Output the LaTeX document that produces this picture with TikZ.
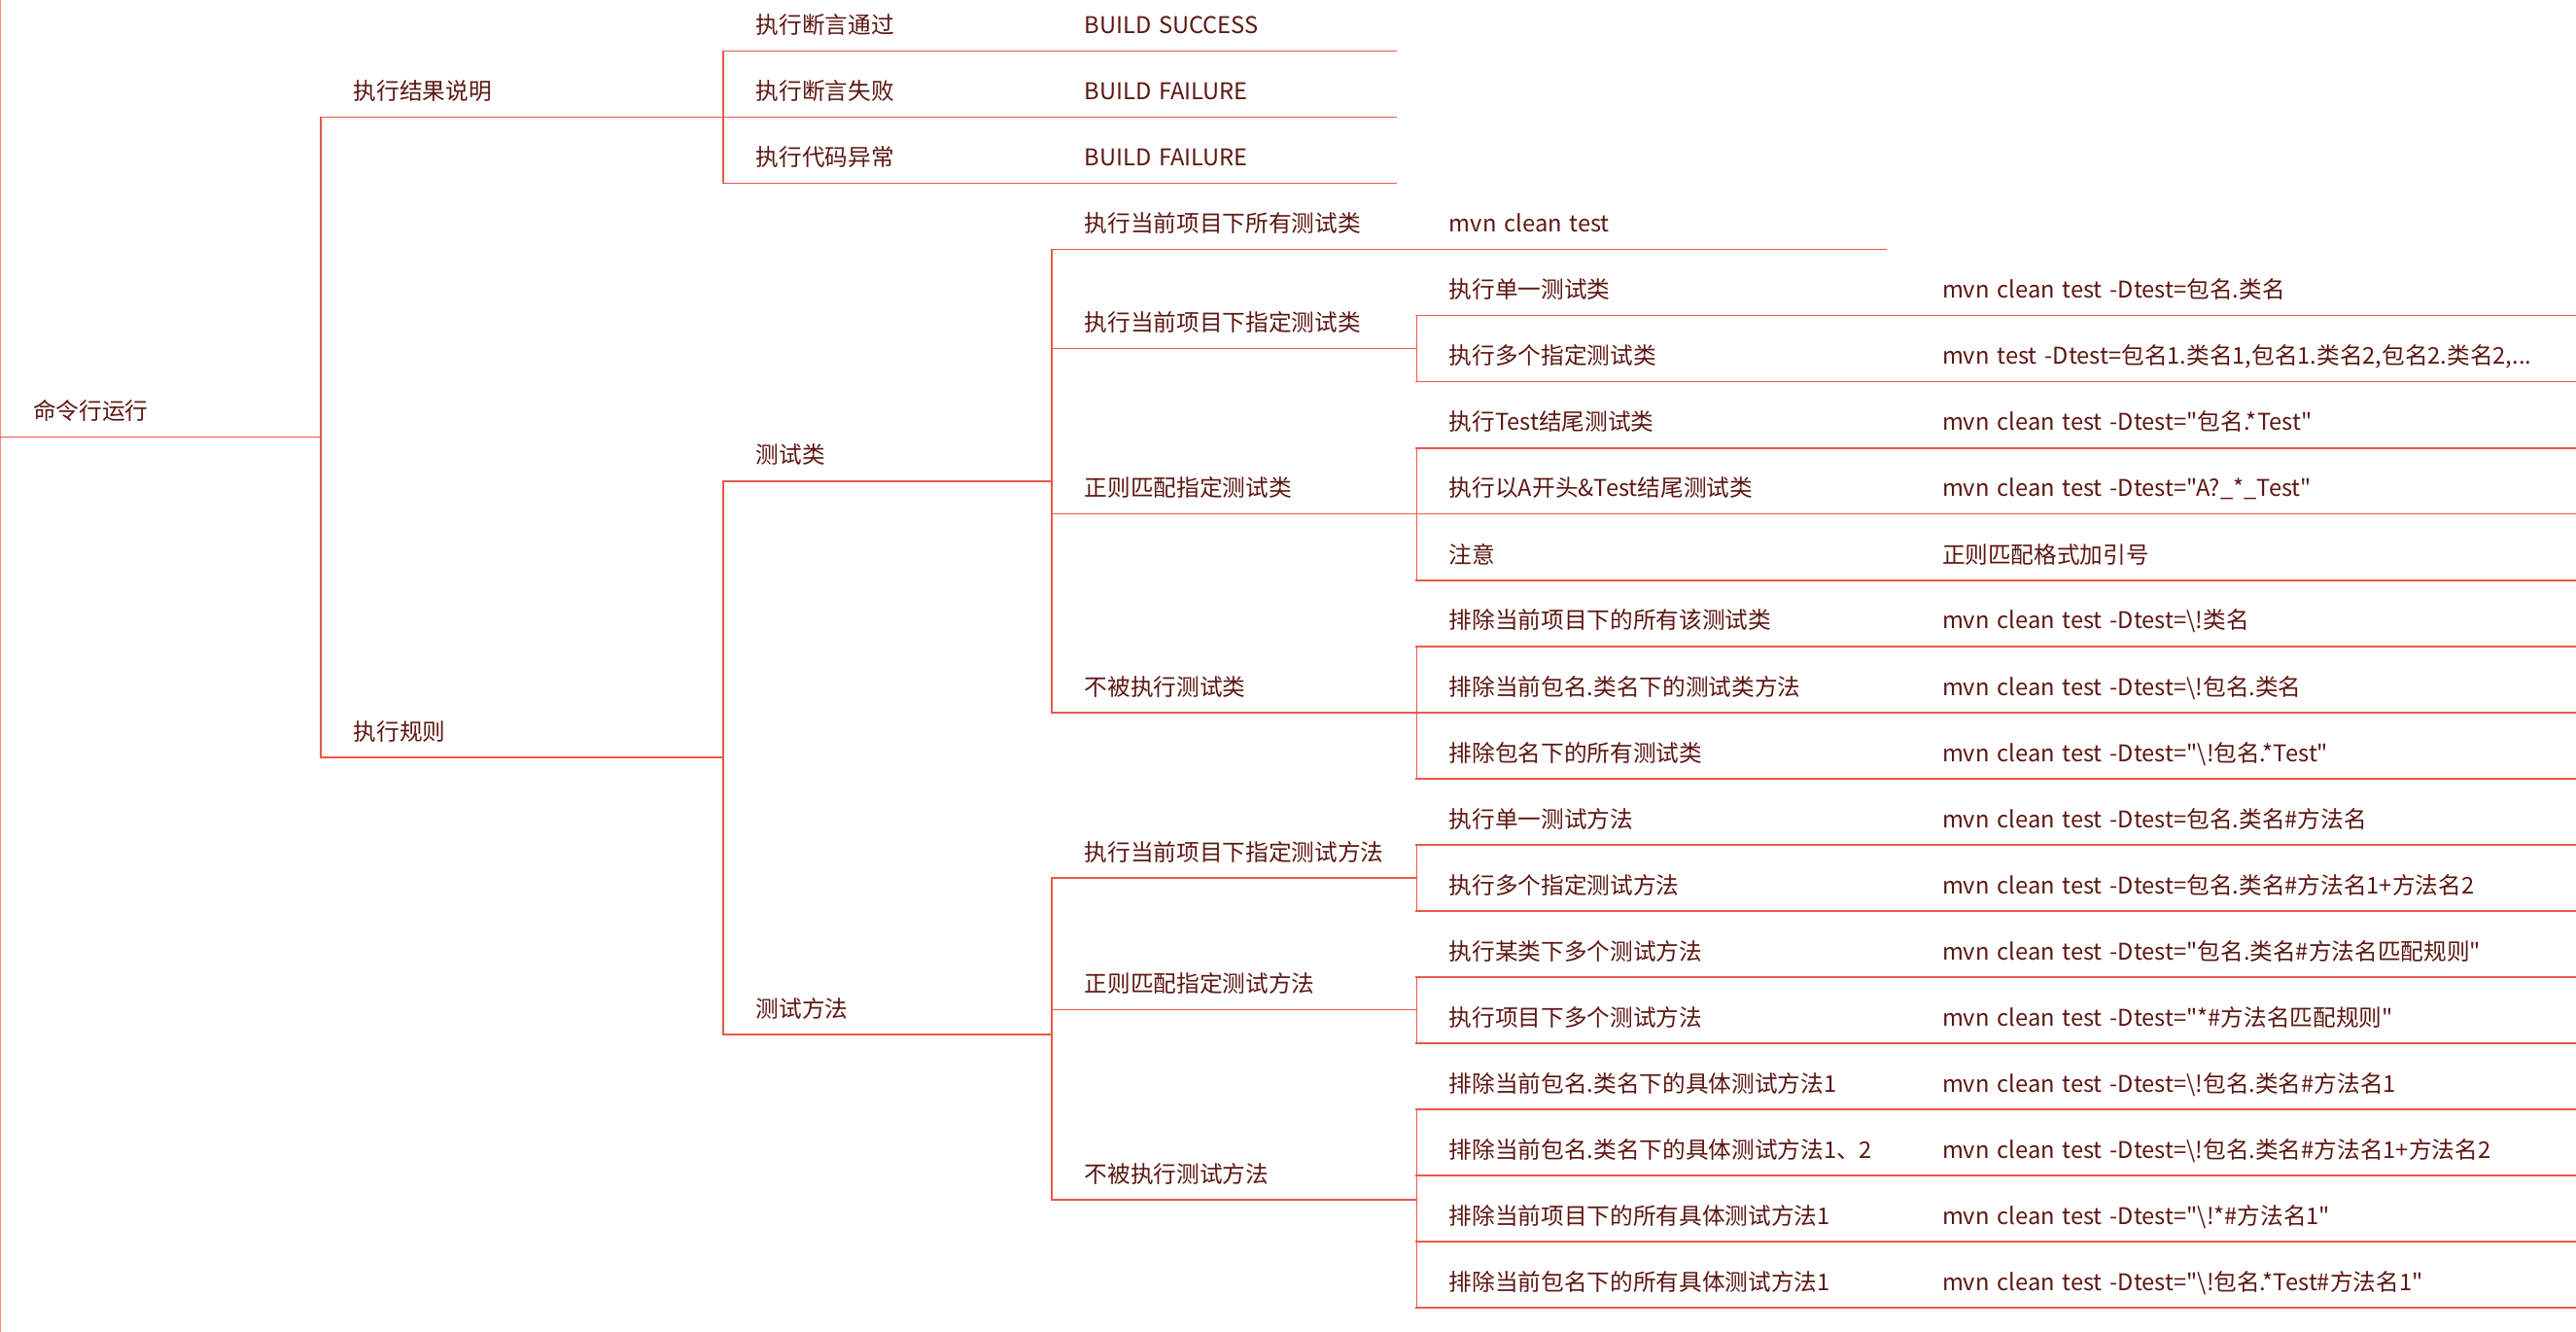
\documentclass[tikz,border=0pt]{standalone}
\usepackage{fontspec}
\setmainfont{Noto Sans CJK SC}
\newfontfamily\mapfont{Noto Sans CJK SC}
\usepackage{tikz}
\definecolor{wire}{HTML}{E9594D}
\definecolor{ink}{HTML}{5C1712}
\tikzset{
	topic/.style = {anchor=south west, inner xsep=20pt, inner ysep=10.3pt,
		text height=10pt, text depth=0pt, text width=#1, align=left,
		text=ink, font=\mapfont\fontsize{14pt}{16pt}\selectfont},
	wire/.style = {draw=wire, line width=1pt},
	branch/.style = {wire, line cap=rect,
		to path={(\tikztostart.south east) |- (\tikztotarget.south west)}}
}
\begin{document}
\begin{tikzpicture}[x=1pt, y=-1pt]
	\useasboundingbox (0,0) rectangle (1568,810.6);
	\draw[wire, draw=wire!70] (0,0) -- (0,810.6);
	% root and first level
	\node[topic=155pt] (cmd) at (0,266) {命令行运行};
	\node[topic=205pt] (res) at (195,71.3) {执行结果说明};
	\node[topic=205pt] (rule) at (195,461) {执行规则};
	% results
	\node[topic=160pt] (pass) at (440,31) {执行断言通过};
	\node[topic=160pt] (fail) at (440,71.3) {执行断言失败};
	\node[topic=160pt] (err) at (440,111.5) {执行代码异常};
	\node[topic=170pt] (passr) at (640,31) {BUILD SUCCESS};
	\node[topic=170pt] (failr) at (640,71.3) {BUILD FAILURE};
	\node[topic=170pt] (errr) at (640,111.5) {BUILD FAILURE};
	% rules
	\node[topic=160pt] (cls) at (440,292.7) {测试类};
	\node[topic=160pt] (mth) at (440,629.5) {测试方法};
	\node[topic=182pt] (allc) at (640,151.8) {执行当前项目下所有测试类};
	\node[topic=182pt] (selc) at (640,212.2) {执行当前项目下指定测试类};
	\node[topic=182pt] (regc) at (640,312.8) {正则匹配指定测试类};
	\node[topic=182pt] (excc) at (640,433.6) {不被执行测试类};
	\node[topic=182pt] (selm) at (640,534.3) {执行当前项目下指定测试方法};
	\node[topic=182pt] (regm) at (640,614.5) {正则匹配指定测试方法};
	\node[topic=182pt] (excm) at (640,730) {不被执行测试方法};
	% cases
	\node[topic=246pt] (allcv) at (862,151.8) {mvn clean test};
	\node[topic=260pt] (c1) at (862,192.0) {执行单一测试类};
	\node[topic=260pt] (c2) at (862,232.3) {执行多个指定测试类};
	\node[topic=260pt] (c3) at (862,272.6) {执行Test结尾测试类};
	\node[topic=260pt] (c4) at (862,312.8) {执行以A开头\&Test结尾测试类};
	\node[topic=260pt] (c5) at (862,353.1) {注意};
	\node[topic=260pt] (c6) at (862,393.3) {排除当前项目下的所有该测试类};
	\node[topic=260pt] (c7) at (862,433.6) {排除当前包名.类名下的测试类方法};
	\node[topic=260pt] (c8) at (862,473.9) {排除包名下的所有测试类};
	\node[topic=260pt] (m1) at (862,514.1) {执行单一测试方法};
	\node[topic=260pt] (m2) at (862,554.4) {执行多个指定测试方法};
	\node[topic=260pt] (m3) at (862,594.6) {执行某类下多个测试方法};
	\node[topic=260pt] (m4) at (862,634.9) {执行项目下多个测试方法};
	\node[topic=260pt] (m5) at (862,675.2) {排除当前包名.类名下的具体测试方法1};
	\node[topic=260pt] (m6) at (862,715.4) {排除当前包名.类名下的具体测试方法1、2};
	\node[topic=260pt] (m7) at (862,755.7) {排除当前项目下的所有具体测试方法1};
	\node[topic=260pt] (m8) at (862,795.9) {排除当前包名下的所有具体测试方法1};
	% commands
	\node[topic=366pt] (c1v) at (1162,192.0) {mvn clean test -Dtest=包名.类名};
	\node[topic=366pt] (c2v) at (1162,232.3) {mvn test -Dtest=包名1.类名1,包名1.类名2,包名2.类名2,...};
	\node[topic=366pt] (c3v) at (1162,272.6) {mvn clean test -Dtest="包名.*Test"};
	\node[topic=366pt] (c4v) at (1162,312.8) {mvn clean test -Dtest="A?\_*\_Test"};
	\node[topic=366pt] (c5v) at (1162,353.1) {正则匹配格式加引号};
	\node[topic=366pt] (c6v) at (1162,393.3) {mvn clean test -Dtest=\textbackslash!类名};
	\node[topic=366pt] (c7v) at (1162,433.6) {mvn clean test -Dtest=\textbackslash!包名.类名};
	\node[topic=366pt] (c8v) at (1162,473.9) {mvn clean test -Dtest="\textbackslash!包名.*Test"};
	\node[topic=366pt] (m1v) at (1162,514.1) {mvn clean test -Dtest=包名.类名\#方法名};
	\node[topic=366pt] (m2v) at (1162,554.4) {mvn clean test -Dtest=包名.类名\#方法名1+方法名2};
	\node[topic=366pt] (m3v) at (1162,594.6) {mvn clean test -Dtest="包名.类名\#方法名匹配规则"};
	\node[topic=366pt] (m4v) at (1162,634.9) {mvn clean test -Dtest="*\#方法名匹配规则"};
	\node[topic=366pt] (m5v) at (1162,675.2) {mvn clean test -Dtest=\textbackslash!包名.类名\#方法名1};
	\node[topic=366pt] (m6v) at (1162,715.4) {mvn clean test -Dtest=\textbackslash!包名.类名\#方法名1+方法名2};
	\node[topic=366pt] (m7v) at (1162,755.7) {mvn clean test -Dtest="\textbackslash!*\#方法名1"};
	\node[topic=366pt] (m8v) at (1162,795.9) {mvn clean test -Dtest="\textbackslash!包名.*Test\#方法名1"};
	% underlines
	\foreach \n in {cmd,res,rule,pass,fail,err,passr,failr,errr,cls,mth,
		allc,selc,regc,excc,selm,regm,excm,allcv,c1,c2,c3,c4,c5,c6,c7,c8,
		m1,m2,m3,m4,m5,m6,m7,m8,c1v,c2v,c3v,c4v,c5v,c6v,c7v,c8v,
		m1v,m2v,m3v,m4v,m5v,m6v,m7v,m8v}
		\draw[wire] (\n.south west) -- (\n.south east);
	% branches
	\path
		(cmd) edge[branch] (res) edge[branch] (rule)
		(res) edge[branch] (pass) edge[branch] (fail) edge[branch] (err)
		(pass) edge[branch] (passr)
		(fail) edge[branch] (failr)
		(err) edge[branch] (errr)
		(rule) edge[branch] (cls) edge[branch] (mth)
		(cls) edge[branch] (allc) edge[branch] (selc) edge[branch] (regc) edge[branch] (excc)
		(mth) edge[branch] (selm) edge[branch] (regm) edge[branch] (excm)
		(allc) edge[branch] (allcv)
		(selc) edge[branch] (c1) edge[branch] (c2)
		(regc) edge[branch] (c3) edge[branch] (c4) edge[branch] (c5)
		(excc) edge[branch] (c6) edge[branch] (c7) edge[branch] (c8)
		(selm) edge[branch] (m1) edge[branch] (m2)
		(regm) edge[branch] (m3) edge[branch] (m4)
		(excm) edge[branch] (m5) edge[branch] (m6) edge[branch] (m7) edge[branch] (m8) ;
	\foreach \n/\v in {c1/c1v,c2/c2v,c3/c3v,c4/c4v,c5/c5v,c6/c6v,c7/c7v,c8/c8v,
		m1/m1v,m2/m2v,m3/m3v,m4/m4v,m5/m5v,m6/m6v,m7/m7v,m8/m8v}
		\path (\n) edge[branch] (\v);
\end{tikzpicture}
\end{document}
